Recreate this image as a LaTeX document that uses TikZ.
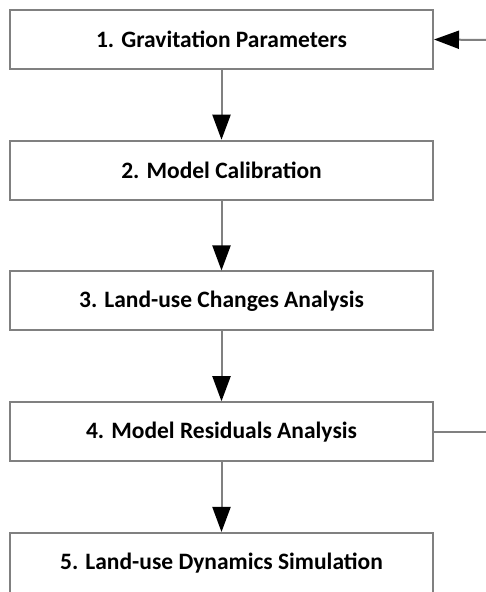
\documentclass[tikz,border=0pt]{standalone}
\usepackage{fontspec}
\setmainfont{Carlito}
\usetikzlibrary{arrows.meta,positioning}

\begin{document}
\begin{tikzpicture}[x=1pt,y=1pt,semithick]
			\tikzstyle{every node}=[font=\fontsize{23.5}{26}\selectfont\bfseries]
			\tikzstyle{stage}=[draw=black!50,line width=2pt,fill=white,minimum width=423pt,minimum height=59pt,inner sep=0pt]
			\tikzstyle{flow}=[draw=black!50,line width=2pt,-{Triangle[width=18pt,length=25pt,color=black]}]
			\useasboundingbox (0,0) rectangle (486,592);
			\node[stage]    (s1) at (221.5,552.5)              {1. Gravitation Parameters};
			\node[stage]    (s2)[below of=s1, node distance=130.75pt] {2. Model Calibration};
			\node[stage]    (s3)[below of=s2, node distance=130.75pt] {3. Land-use Changes Analysis};
			\node[stage]    (s4)[below of=s3, node distance=130.75pt] {4. Model Residuals Analysis};
			\node[stage]    (s5)[below of=s4, node distance=130.75pt, yshift=-1pt, minimum height=61pt] {5. Land-use Dynamics Simulation};
			\coordinate     (r4) at (486,160);
			\coordinate     (r1) at (486,552);
			\path
			(s1) edge[flow] (s2)
			(s2) edge[flow] (s3)
			(s3) edge[flow] (s4)
			(s4) edge[flow] (s5);
			\draw[draw=black!50,line width=2pt] (s4.east) -- (s4.east -| r4);
			\draw[flow] (r1) -- (s1.east);
		\end{tikzpicture}
\end{document}
